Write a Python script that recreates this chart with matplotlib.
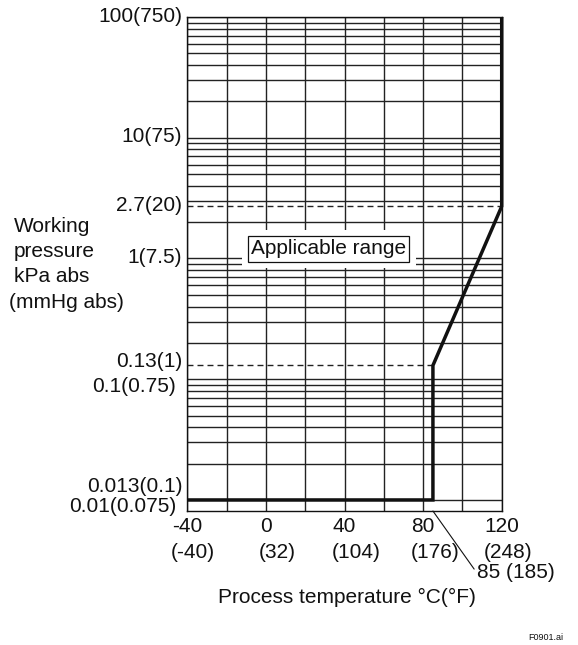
import matplotlib
matplotlib.use('Agg')
import matplotlib.pyplot as plt
from matplotlib.ticker import NullLocator
from matplotlib.transforms import blended_transform_factory, offset_copy

plt.rcParams['font.family'] = ['Liberation Sans', 'DejaVu Sans']

# ---- data ----
temp_ticks_c = [-40, 0, 40, 80, 120]
temp_labels_c = ['-40', '0', '40', '80', '120']
temp_labels_f = ['(-40)', '(32)', '(104)', '(176)', '(248)']
x_grid = [-40, -20, 0, 20, 40, 60, 80, 100, 120]

pressure_ticks = [100, 10, 2.7, 1, 0.13, 0.1, 0.013, 0.01]
pressure_labels = ['100(750)', '10(75)', '2.7(20)', '1(7.5)', '0.13(1)',
                   '0.1(0.75)', '0.013(0.1)', '0.01(0.075)']
y_grid = [m * 10.0 ** e for e in range(-2, 2) for m in range(1, 10)] + [100]

limit_temp = [-40, 85, 85, 120, 120]
limit_press = [0.01, 0.01, 0.13, 2.7, 100]

dashed_levels = [0.13, 2.7]
dashed_ends = [85, 120]

ylabel_lines = ['Working', 'pressure', 'kPa abs', '(mmHg abs)']

# ---- layout / style ----
W, H = 578, 645
FS = 15
INK = '#111111'
ax_left, ax_right, ax_top, ax_bottom = 187.3, 501.7, 17, 511

fig = plt.figure(figsize=(W / 100, H / 100), dpi=100)
ax = fig.add_axes([ax_left / W, 1 - ax_bottom / H, (ax_right - ax_left) / W,
                   (ax_bottom - ax_top) / H])
ax.set_yscale('log')
ax.set_xlim(-40, 120)
ax.set_ylim(0.0081, 100)
ax.set_xticks(x_grid)
ax.set_yticks(y_grid)
ax.yaxis.set_minor_locator(NullLocator())
ax.xaxis.set_minor_locator(NullLocator())
ax.tick_params(length=0, labelleft=False, labelbottom=False)
ax.grid(True, which='major', color='#222222', lw=1.0)
ax.set_axisbelow(True)
for s in ax.spines.values():
    s.set_linewidth(1.0)
    s.set_color(INK)

# dashed reference lines
for lvl, xe in zip(dashed_levels, dashed_ends):
    ax.plot([-40, xe], [lvl, lvl], color='#222222', lw=1.0,
            dashes=(4.3, 2.9), zorder=3)

# boundary of applicable range
ax.plot(limit_temp, limit_press, color=INK, lw=2.5,
        solid_joinstyle='miter', solid_capstyle='butt', clip_on=False, zorder=5)

# applicable range box with white halo
ax.text(32, 1.2, 'Applicable range', fontsize=FS, ha='center', va='center',
        color='none', zorder=6,
        bbox=dict(boxstyle='square,pad=0.45', fc='white', ec='none'))
ax.text(32, 1.2, 'Applicable range', fontsize=FS, ha='center', va='center',
        color=INK, zorder=7,
        bbox=dict(boxstyle='square,pad=0.15', fc='white', ec=INK, lw=0.9))

# y tick labels
ytrans = blended_transform_factory(ax.transAxes, ax.transData)
y_dx = [-5, -5, -5, -5, -5, -11, -5, -11]
y_dy = [1, 1, 1, 1, 4, -7, 0, -7]
for v, lab, dx, dy in zip(pressure_ticks, pressure_labels, y_dx, y_dy):
    t = offset_copy(ytrans, fig=fig, x=dx, y=dy, units='dots')
    ax.text(0, v, lab, transform=t, ha='right', va='center', fontsize=FS,
            color=INK, clip_on=False)

# x tick labels: degC row centred on ticks, degF row left-aligned below it
xtrans = blended_transform_factory(ax.transData, ax.transAxes)
for v, lc, lf in zip(temp_ticks_c, temp_labels_c, temp_labels_f):
    t1 = offset_copy(xtrans, fig=fig, x=0, y=-16, units='dots')
    top = ax.text(v, 0, lc, transform=t1, ha='center', va='center',
                  fontsize=FS, color=INK, clip_on=False)
    ax.annotate(lf, xy=(0, 0.5), xycoords=top, xytext=(-1, -25),
                textcoords='offset pixels', ha='left', va='center',
                fontsize=FS, color=INK, annotation_clip=False)

# 85 (185) leader
ax.annotate('85 (185)', xy=(85, 0), xycoords=xtrans, xytext=(44, -62),
            textcoords='offset pixels', ha='left', va='center', fontsize=FS,
            color=INK,
            arrowprops=dict(arrowstyle='-', lw=0.8, color=INK,
                            shrinkA=0, shrinkB=0, relpos=(0, 0.5)))

# axis titles
fig.text(347 / W, 1 - 597 / H, 'Process temperature °C(°F)', ha='center',
         va='center', fontsize=FS, color=INK)
ylab_x = [14, 14, 14, 9]
ylab_y = [227, 252, 277, 303]
for txt, xx, yy in zip(ylabel_lines, ylab_x, ylab_y):
    fig.text(xx / W, 1 - yy / H, txt, ha='left', va='center', fontsize=FS,
             color=INK)

fig.text(563 / W, 1 - 637 / H, 'F0901.ai', ha='right', va='center',
         fontsize=6.5, color=INK)

fig.savefig('out.png', dpi=100)
